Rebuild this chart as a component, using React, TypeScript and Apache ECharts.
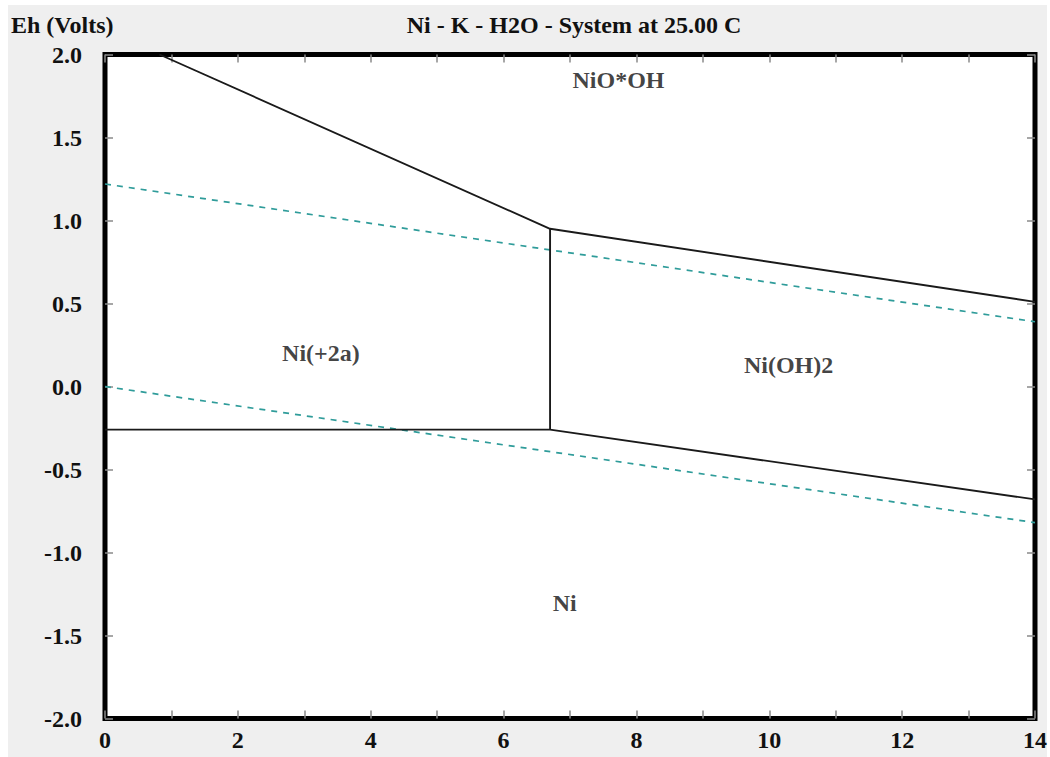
import React, { useEffect, useRef } from "react";
import * as echarts from "echarts";

// ---- data ----
const titleText = "Ni - K - H2O - System at 25.00 C";
const yAxisTitle = "Eh (Volts)";
const xRange = [0, 14];
const yRange = [-2, 2];

// phase boundaries (pH, Eh)
const upperBoundary: [number, number][] = [
  [0.82, 2.0],
  [6.7, 0.95],
  [14, 0.51],
];
const verticalBoundary: [number, number][] = [
  [6.7, 0.95],
  [6.7, -0.26],
];
const lowerBoundary: [number, number][] = [
  [0, -0.26],
  [6.7, -0.26],
  [14, -0.68],
];
// water stability limits (dashed)
const waterUpper: [number, number][] = [
  [0, 1.22],
  [14, 0.39],
];
const waterLower: [number, number][] = [
  [0, 0.0],
  [14, -0.82],
];
// field labels
const fieldNames = ["NiO*OH", "Ni(+2a)", "Ni(OH)2", "Ni"];
const fieldPositions: [number, number][] = [
  [7.73, 1.846],
  [3.25, 0.2],
  [10.29, 0.13],
  [6.92, -1.304],
];

const FONT = "'Liberation Serif', 'Times New Roman', serif";
const TEXT_COLOR = "#111";
const TICK_COLOR = "#8a8a8a";
const TEAL = "#2f9c9a";

export default function App() {
  const ref = useRef<HTMLDivElement>(null);

  useEffect(() => {
    if (!ref.current) return;
    const chart = echarts.init(ref.current, undefined, { renderer: "svg" });

    const tickStyle = { color: TICK_COLOR, width: 1.5 };
    const tickCommon = {
      axisLine: { show: false, onZero: false },
      axisTick: { show: true, inside: true, length: 8, lineStyle: tickStyle },
      splitLine: { show: false },
    };

    const boundaryStyle = { color: "#1a1a1a", width: 1.9 };
    const waterStyle = { color: TEAL, width: 1.7, type: [6, 6] as any };

    const mkLine = (data: [number, number][], style: any) => ({
      type: "line",
      data,
      symbol: "none",
      lineStyle: style,
      silent: true,
      z: 3,
    });

    const labelFont = {
      fontFamily: FONT,
      fontWeight: "bold",
      fontSize: 24,
      color: TEXT_COLOR,
    };

    chart.setOption({
      animation: false,
      backgroundColor: "transparent",
      grid: {
        left: 105,
        top: 54.5,
        width: 936,
        height: 664,
        show: true,
        backgroundColor: "#fff",
        borderColor: "#000",
        borderWidth: 5,
      },
      title: {
        text: titleText,
        left: 569,
        top: 8,
        textAlign: "center",
        textStyle: { fontFamily: FONT, fontWeight: "bold", fontSize: 24, color: TEXT_COLOR },
      },
      graphic: [
        {
          type: "text",
          x: 11,
          y: 25,
          style: {
            text: yAxisTitle,
            fontFamily: FONT,
            fontWeight: "bold",
            fontSize: 24,
            fill: TEXT_COLOR,
            textAlign: "left",
            textVerticalAlign: "middle",
          },
        },
      ],
      xAxis: [
        {
          type: "value",
          min: xRange[0],
          max: xRange[1],
          interval: 2,
          position: "bottom",
          ...tickCommon,
          minorTick: { show: true, splitNumber: 2, length: 8, lineStyle: tickStyle },
          axisLabel: { margin: 9, ...labelFont },
        },
        {
          type: "value",
          min: xRange[0],
          max: xRange[1],
          interval: 2,
          position: "top",
          ...tickCommon,
          minorTick: { show: true, splitNumber: 2, length: 8, lineStyle: tickStyle },
          axisLabel: { show: false },
        },
      ],
      yAxis: [
        {
          type: "value",
          min: yRange[0],
          max: yRange[1],
          interval: 0.5,
          position: "left",
          ...tickCommon,
          axisLabel: {
            margin: 23,
            ...labelFont,
            formatter: (v: number) => v.toFixed(1),
          },
        },
        {
          type: "value",
          min: yRange[0],
          max: yRange[1],
          interval: 0.5,
          position: "right",
          ...tickCommon,
          axisLabel: { show: false },
        },
      ],
      series: [
        mkLine(waterUpper, waterStyle),
        mkLine(waterLower, waterStyle),
        mkLine(upperBoundary, boundaryStyle),
        mkLine(verticalBoundary, boundaryStyle),
        mkLine(lowerBoundary, boundaryStyle),
        {
          type: "scatter",
          symbolSize: 0,
          silent: true,
          itemStyle: { color: "transparent" },
          data: fieldNames.map((n, i) => ({ name: n, value: fieldPositions[i] })),
          label: {
            show: true,
            position: "inside",
            formatter: (p: any) => p.name,
            fontFamily: FONT,
            fontWeight: "bold",
            fontSize: 24,
            color: TEXT_COLOR,
            textBorderWidth: 0,
            textBorderColor: "transparent",
          },
          z: 4,
        },
      ],
    });

    return () => chart.dispose();
  }, []);

  return (
    <div style={{ position: "absolute", left: 0, top: 0, width: 1050, height: 757, background: "#fff", overflow: "hidden" }}>
      <div style={{ position: "absolute", left: 8, top: 5, width: 1039, height: 752, background: "#efefef" }} />
      <div ref={ref} style={{ position: "absolute", left: 0, top: 0, width: 1050, height: 757 }} />
    </div>
  );
}
